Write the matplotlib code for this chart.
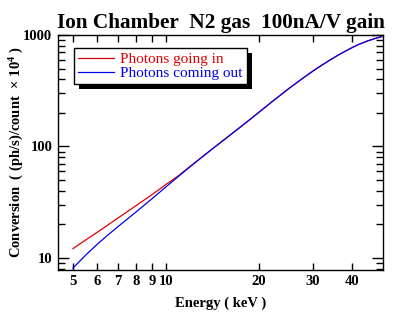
import matplotlib
matplotlib.use("Agg")
import matplotlib.pyplot as plt
from matplotlib.patches import Rectangle
from matplotlib.ticker import FixedLocator, NullLocator, LogLocator, NullFormatter, FixedFormatter

energy = [5, 5.5, 6, 6.5, 7, 7.5, 8, 9, 10, 11, 12, 14, 16, 18, 20, 22, 25, 28, 30, 32, 34, 36, 38, 40, 42, 45, 48, 50]
photons_in = [12.1, 14.5, 17.0, 19.8, 22.8, 26.0, 29.4, 36.8, 45.5, 54.8, 66.5, 93, 124, 160, 202, 250, 330, 416, 476, 536, 596, 655, 712, 767, 819, 884, 937, 966]
photons_out = [8.1, 10.6, 13.3, 16.1, 19.1, 22.3, 25.8, 33.8, 43.3, 54.0, 66.0, 93, 124, 160, 202, 250, 330, 416, 476, 536, 596, 655, 712, 767, 819, 884, 937, 966]

x_ticks = [5, 6, 7, 8, 9, 10, 20, 30, 40]
x_labels = ["5", "6", "7", "8", "9", "10", "20", "30", "40"]
y_ticks = [10, 100, 1000]
y_labels = ["10", "100", "1000"]

title = "Ion Chamber  N2 gas  100nA/V gain"
xlabel = "Energy ( keV )"
ylabel = r"Conversion  ( (ph/s)/count  $\times\ 10^4$ )"

plt.rcParams['font.family'] = ['Liberation Serif', 'DejaVu Serif']
plt.rcParams['mathtext.fontset'] = 'custom'
plt.rcParams['mathtext.rm'] = 'Liberation Serif:bold'
plt.rcParams['mathtext.it'] = 'Liberation Serif:bold'
plt.rcParams['mathtext.bf'] = 'Liberation Serif:bold'

fig = plt.figure(figsize=(4.14, 3.24), dpi=100)
ax = fig.add_axes([0.140, 0.167, 0.785, 0.725])

ax.plot(energy, photons_in, color='#e00000', lw=0.9, label='Photons going in')
ax.plot(energy, photons_out, color='#0000ee', lw=0.9, label='Photons coming out')

ax.set_xscale('log')
ax.set_yscale('log')
ax.set_xlim(4.47, 50.5)
ax.set_ylim(7.8, 1000)

ax.xaxis.set_major_locator(FixedLocator(x_ticks))
ax.xaxis.set_major_formatter(FixedFormatter(x_labels))
ax.xaxis.set_minor_locator(NullLocator())
ax.yaxis.set_major_locator(FixedLocator(y_ticks))
ax.yaxis.set_major_formatter(FixedFormatter(y_labels))
ax.yaxis.set_minor_locator(LogLocator(base=10, subs=range(2, 10)))
ax.yaxis.set_minor_formatter(NullFormatter())

ax.tick_params(which='both', direction='in', top=True, right=True, width=1, color='black')
ax.tick_params(axis='x', which='major', length=5)
ax.tick_params(axis='y', which='major', length=8)
ax.tick_params(axis='y', which='minor', length=5)
for lab in ax.get_xticklabels() + ax.get_yticklabels():
    lab.set_fontweight('bold')
    lab.set_fontsize(10.5)
ax.tick_params(axis='x', pad=4)
ax.tick_params(axis='y', pad=4)
for s in ax.spines.values():
    s.set_linewidth(1)

ax.set_title(title, fontsize=15.3, fontweight='bold', pad=5)
ax.set_xlabel(xlabel, fontsize=10.5, fontweight='bold')
ax.set_ylabel(ylabel, fontsize=10.5, fontweight='bold')
ax.xaxis.set_label_coords(0.5, -0.112)
ax.yaxis.set_label_coords(-0.098, 0.5)

leg = ax.legend(loc='upper left', bbox_to_anchor=(0.049, 0.945), fancybox=False,
                shadow=False, edgecolor='black',
                framealpha=1, labelcolor='linecolor', fontsize=11,
                handlelength=2.3, handletextpad=0.45, borderpad=0.3,
                labelspacing=0.0, borderaxespad=0)
leg.get_frame().set_linewidth(1)

fig.canvas.draw()
bb = leg.get_window_extent()
W, H = fig.bbox.width, fig.bbox.height
shadow = Rectangle(((bb.x0 + 5) / W, (bb.y0 - 5) / H), bb.width / W, bb.height / H,
                   transform=fig.transFigure, facecolor='black', edgecolor='none',
                   zorder=4.5, clip_on=False)
ax.add_patch(shadow)

fig.savefig('out.png', dpi=100)
